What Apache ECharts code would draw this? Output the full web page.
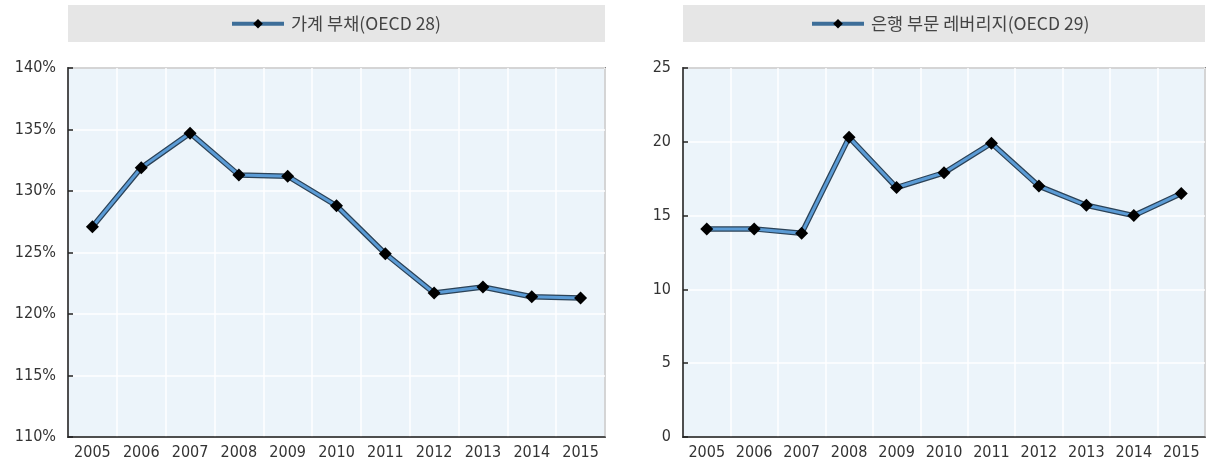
<!DOCTYPE html>
<html>
<head>
<meta charset="utf-8">
<script src="https://cdn.jsdelivr.net/npm/echarts@6/dist/echarts.min.js"></script>
<style>
  html, body { margin: 0; padding: 0; background: #fff; }
  #chart { width: 1218px; height: 468px; }
</style>
</head>
<body>
<div id="chart"></div>
<script>
const years = ['2005', '2006', '2007', '2008', '2009', '2010', '2011', '2012', '2013', '2014', '2015']
const householdDebt = [127.1, 131.9, 134.7, 131.3, 131.2, 128.8, 124.9, 121.7, 122.2, 121.4, 121.3]
const bankLeverage = [14.1, 14.1, 13.8, 20.3, 16.9, 17.9, 19.9, 17.0, 15.7, 15.0, 16.5]
const leftName = '가계 부채(OECD 28)'
const rightName = '은행 부문 레버리지(OECD 29)'

const FONT = '"DejaVu Sans Condensed", "Liberation Sans", sans-serif'
const KFONT = '"Noto Sans CJK KR", sans-serif'
const LINE = '#5b9bd5'
const OUTLINE = '#2b4257'
const PLOT_BG = '#ecf4fa'

const chart = echarts.init(document.getElementById('chart'))

function xAxis(gridIndex) {
  return {
    type: 'category', gridIndex, data: years, boundaryGap: true,
    axisLine: { lineStyle: { color: '#222', width: 1.5 } },
    axisTick: { inside: true, length: 5, lineStyle: { color: '#222', width: 1.5 } },
    axisLabel: { color: '#333', fontSize: 16, fontFamily: FONT, margin: 8, interval: 0 },
    splitLine: { show: true, lineStyle: { color: '#ffffff', width: 1.5 } }
  }
}

function yAxis(gridIndex, min, max, interval, fmt) {
  return {
    type: 'value', gridIndex, min, max, interval,
    axisLine: { show: true, lineStyle: { color: '#222', width: 1.5 } },
    axisTick: { show: true, inside: true, length: 5, lineStyle: { color: '#222', width: 1.5 } },
    axisLabel: { color: '#333', fontSize: 16, fontFamily: FONT, margin: 12, formatter: fmt },
    splitLine: { show: true, lineStyle: { color: '#ffffff', width: 1.5 } }
  }
}

function pair(name, data, idx) {
  return [
    {
      name: name + ' outline', type: 'line', xAxisIndex: idx, yAxisIndex: idx, data,
      symbol: 'none', silent: true, z: 2,
      lineStyle: { color: OUTLINE, width: 5.5 }
    },
    {
      name, type: 'line', xAxisIndex: idx, yAxisIndex: idx, data,
      symbol: 'diamond', symbolSize: 13, z: 3,
      itemStyle: { color: '#000' },
      lineStyle: { color: LINE, width: 3 }
    }
  ]
}

function legend(name, left) {
  return {
    data: [name], left, top: 15, itemWidth: 52, itemHeight: 12, itemGap: 6,
    padding: [0, 0, 0, 0],
    lineStyle: { color: '#3d6e99', width: 4 },
    textStyle: { color: '#444', fontSize: 17.5, fontFamily: KFONT, padding: [0, 0, 0, 2] }
  }
}

chart.setOption({
  animation: false,
  textStyle: { fontFamily: FONT },
  graphic: [
    { type: 'rect', left: 68, top: 5, shape: { width: 537, height: 37 }, style: { fill: '#e6e6e6' }, z: -1 },
    { type: 'rect', left: 683, top: 5, shape: { width: 522, height: 37 }, style: { fill: '#e6e6e6' }, z: -1 }
  ],
  legend: [legend(leftName, 230), legend(rightName, 810)],
  grid: [
    { left: 68, right: 613, top: 68, bottom: 31, show: true, backgroundColor: PLOT_BG, borderColor: '#222', borderWidth: 1.5 },
    { left: 683, right: 13, top: 68, bottom: 31, show: true, backgroundColor: PLOT_BG, borderColor: '#222', borderWidth: 1.5 }
  ],
  xAxis: [xAxis(0), xAxis(1)],
  yAxis: [
    yAxis(0, 110, 140, 5, '{value}%'),
    yAxis(1, 0, 25, 5, '{value}')
  ],
  series: [...pair(leftName, householdDebt, 0), ...pair(rightName, bankLeverage, 1)]
})
</script>
</body>
</html>
